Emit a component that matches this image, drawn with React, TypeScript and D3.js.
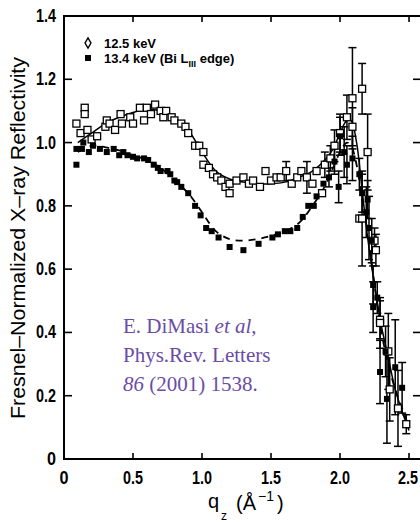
import * as d3 from "d3";
import React, { useEffect, useRef } from "react";

// 12.5 keV (open symbols)
const qOpen = [0.09, 0.12, 0.15, 0.15, 0.17, 0.2, 0.24, 0.3, 0.31, 0.33, 0.37, 0.41, 0.42, 0.48, 0.5, 0.55, 0.58, 0.6, 0.63, 0.66, 0.7, 0.72, 0.74, 0.78, 0.8, 0.85, 0.88, 0.9, 0.95, 0.98, 1.01, 1.01, 1.05, 1.08, 1.11, 1.14, 1.17, 1.2, 1.2, 1.25, 1.3, 1.34, 1.37, 1.42, 1.46, 1.5, 1.54, 1.57, 1.61, 1.65, 1.69, 1.72, 1.76, 1.8, 1.83, 1.87, 1.89, 1.93, 1.96, 2.0, 2.05, 2.09, 2.09, 2.14, 2.16, 2.16, 2.2, 2.25, 2.26, 2.29, 2.29, 2.35, 2.36, 2.42, 2.48];
const rOpen = [1.06, 1.03, 1.11, 1.09, 1.04, 1.01, 1.02, 1.05, 1.07, 1.06, 1.04, 1.09, 1.06, 1.08, 1.06, 1.11, 1.07, 1.11, 1.09, 1.12, 1.1, 1.08, 1.1, 1.08, 1.07, 1.06, 1.05, 1.03, 0.99, 0.99, 0.97, 0.93, 0.92, 0.9, 0.89, 0.88, 0.86, 0.87, 0.84, 0.88, 0.89, 0.87, 0.88, 0.86, 0.91, 0.88, 0.89, 0.89, 0.91, 0.87, 0.89, 0.91, 0.89, 0.87, 0.91, 0.84, 0.93, 0.95, 0.99, 1.03, 1.08, 1.05, 1.14, 0.76, 1.17, 0.76, 0.97, 0.69, 0.66, 0.44, 0.43, 0.34, 0.22, 0.16, 0.11];
const eOpen = [0, 0, 0, 0, 0, 0, 0, 0, 0, 0, 0, 0, 0, 0, 0, 0, 0, 0, 0, 0, 0, 0, 0, 0, 0, 0, 0, 0, 0, 0, 0, 0, 0, 0, 0, 0, 0, 0, 0, 0, 0, 0, 0, 0, 0, 0, 0, 0, 0.03, 0, 0, 0, 0.05, 0, 0, 0, 0.04, 0.04, 0.05, 0.06, 0.07, 0.06, 0.16, 0, 0.08, 0.15, 0.12, 0.04, 0.05, 0.06, 0.08, 0.12, 0.1, 0.12, 0.03];

// 13.4 keV, Bi L_III edge (filled symbols)
const qFilled = [0.09, 0.09, 0.13, 0.14, 0.18, 0.21, 0.26, 0.31, 0.36, 0.4, 0.43, 0.46, 0.5, 0.53, 0.58, 0.61, 0.65, 0.68, 0.7, 0.75, 0.77, 0.8, 0.82, 0.85, 0.9, 0.95, 0.99, 1.03, 1.07, 1.12, 1.2, 1.3, 1.41, 1.51, 1.55, 1.6, 1.64, 1.69, 1.73, 1.77, 1.81, 1.83, 1.88, 1.92, 1.96, 1.99, 2.0, 2.03, 2.05, 2.09, 2.14, 2.16, 2.19, 2.2, 2.21, 2.23, 2.24, 2.27, 2.24, 2.29, 2.33, 2.34, 2.4, 2.45];
const rFilled = [0.93, 0.98, 0.98, 1.0, 0.97, 0.99, 0.98, 0.97, 0.98, 0.96, 0.97, 0.96, 0.955, 0.95, 0.95, 0.945, 0.93, 0.92, 0.91, 0.91, 0.9, 0.88, 0.875, 0.86, 0.84, 0.8, 0.77, 0.73, 0.72, 0.7, 0.67, 0.66, 0.68, 0.7, 0.71, 0.72, 0.72, 0.73, 0.765, 0.8, 0.8, 0.83, 0.87, 0.89, 0.94, 0.86, 1.02, 0.97, 0.93, 0.95, 0.9, 0.84, 0.78, 0.82, 0.73, 0.69, 0.55, 0.51, 0.48, 0.275, 0.34, 0.19, 0.29, 0.225];
const eFilled = [0, 0, 0, 0, 0, 0, 0, 0, 0, 0, 0, 0, 0, 0, 0, 0, 0, 0, 0, 0, 0, 0, 0, 0, 0, 0, 0, 0, 0, 0, 0, 0, 0, 0, 0, 0, 0, 0, 0, 0, 0, 0, 0, 0.03, 0.04, 0.05, 0.06, 0.08, 0.06, 0.07, 0.05, 0.06, 0.08, 0.06, 0.1, 0.07, 0.06, 0.05, 0.08, 0.1, 0.08, 0.14, 0.15, 0.08];

// model curves
const qFit = [0.1, 0.2, 0.3, 0.4, 0.5, 0.6, 0.7, 0.8, 0.9, 1.0, 1.1, 1.2, 1.3, 1.4, 1.5, 1.6, 1.7, 1.8, 1.9, 1.95, 2.0, 2.05, 2.08, 2.12, 2.16, 2.2, 2.25, 2.3, 2.35, 2.4, 2.45, 2.5];
const rFitOpen = [1.0, 1.03, 1.06, 1.08, 1.095, 1.105, 1.1, 1.08, 1.04, 0.97, 0.91, 0.885, 0.875, 0.87, 0.87, 0.875, 0.89, 0.91, 0.95, 0.98, 1.03, 1.07, 1.07, 1.0, 0.85, 0.7, 0.55, 0.42, 0.32, 0.22, 0.15, 0.09];
const rFitFilled = [0.97, 0.99, 0.985, 0.975, 0.96, 0.945, 0.92, 0.88, 0.84, 0.78, 0.72, 0.695, 0.69, 0.695, 0.705, 0.72, 0.745, 0.8, 0.87, 0.92, 0.97, 1.0, 0.99, 0.93, 0.82, 0.72, 0.55, 0.4, 0.3, 0.22, 0.16, 0.1];

const xTicks = [0, 0.5, 1.0, 1.5, 2.0, 2.5];
const xTickLabels = ["0", "0.5", "1.0", "1.5", "2.0", "2.5"];
const yTicks = [0, 0.2, 0.4, 0.6, 0.8, 1.0, 1.2, 1.4];
const yTickLabels = ["0", "0.2", "0.4", "0.6", "0.8", "1.0", "1.2", "1.4"];

const citation = ["E. DiMasi ", "Phys.Rev. Letters", " (2001) 1538."];

export default function App() {
  const svgRef = useRef(null);

  useEffect(() => {
    const svg = d3.select(svgRef.current);
    svg.selectAll("*").remove();

    const margin = { left: 64, top: 16, right: 422, bottom: 459 };
    const x = d3.scaleLinear().domain([0, 2.594]).range([margin.left, margin.right]);
    const y = d3.scaleLinear().domain([0, 1.4]).range([margin.bottom, margin.top]);
    const tickFont = "'Liberation Sans', Arial, sans-serif";
    // rough width of condensed tick labels in the original
    const labelWidth = s => (s.length === 1 ? 9 : 20);

    // frame
    svg.append("rect")
      .attr("x", margin.left).attr("y", margin.top)
      .attr("width", margin.right - margin.left).attr("height", margin.bottom - margin.top)
      .attr("fill", "none").attr("stroke", "#000").attr("stroke-width", 2);

    // ticks on all four sides, pointing inward
    const tk = svg.append("g").attr("stroke", "#000").attr("stroke-width", 1.6);
    xTicks.forEach(t => {
      tk.append("line").attr("x1", x(t)).attr("x2", x(t)).attr("y1", margin.bottom).attr("y2", margin.bottom - 6);
      tk.append("line").attr("x1", x(t)).attr("x2", x(t)).attr("y1", margin.top).attr("y2", margin.top + 6);
    });
    yTicks.forEach(t => {
      tk.append("line").attr("y1", y(t)).attr("y2", y(t)).attr("x1", margin.left).attr("x2", margin.left + 8);
      tk.append("line").attr("y1", y(t)).attr("y2", y(t)).attr("x1", margin.right - 2).attr("x2", margin.right - 9);
    });

    svg.append("g").selectAll("text").data(xTicks).enter().append("text")
      .attr("x", d => Math.min(x(d), 408)).attr("y", margin.bottom + 25)
      .attr("text-anchor", "middle")
      .attr("font-family", tickFont).attr("font-size", 18).attr("font-weight", "bold")
      .attr("textLength", (d, i) => labelWidth(xTickLabels[i])).attr("lengthAdjust", "spacingAndGlyphs")
      .text((d, i) => xTickLabels[i]);

    svg.append("g").selectAll("text").data(yTicks).enter().append("text")
      .attr("x", margin.left - 8).attr("y", d => y(d) + 6)
      .attr("text-anchor", "end")
      .attr("font-family", tickFont).attr("font-size", 18).attr("font-weight", "bold")
      .attr("textLength", (d, i) => labelWidth(yTickLabels[i])).attr("lengthAdjust", "spacingAndGlyphs")
      .text((d, i) => yTickLabels[i]);

    // axis titles
    svg.append("text")
      .attr("transform", "translate(25,238) rotate(-90)")
      .attr("text-anchor", "middle")
      .attr("font-family", tickFont).attr("font-size", 21)
      .attr("textLength", 362).attr("lengthAdjust", "spacingAndGlyphs")
      .text("Fresnel\u2013Normalized  X\u2013ray  Reflectivity");

    const xfont = svg.append("g").attr("font-family", tickFont).attr("font-size", 20);
    xfont.append("text").attr("x", 208).attr("y", 508).text("q");
    xfont.append("text").attr("x", 221).attr("y", 520).attr("font-size", 12).text("z");
    xfont.append("text").attr("x", 236).attr("y", 510).text("(\u00C5");
    xfont.append("text").attr("x", 258).attr("y", 501).attr("font-size", 14).text("\u22121");
    xfont.append("text").attr("x", 277).attr("y", 510).text(")");

    svg.append("clipPath").attr("id", "plotclip").append("rect")
      .attr("x", margin.left).attr("y", margin.top)
      .attr("width", margin.right - margin.left).attr("height", margin.bottom - margin.top);
    const plot = svg.append("g").attr("clip-path", "url(#plotclip)");

    // model curves
    const line = d3.line().x(d => x(d[0])).y(d => y(d[1])).curve(d3.curveCatmullRom);
    plot.append("path")
      .datum(qFit.map((q, i) => [q, rFitOpen[i]]))
      .attr("fill", "none").attr("stroke", "#000").attr("stroke-width", 1.5)
      .attr("d", line);
    plot.append("path")
      .datum(qFit.map((q, i) => [q, rFitFilled[i]]))
      .attr("fill", "none").attr("stroke", "#000").attr("stroke-width", 1.8)
      .attr("stroke-dasharray", "7,6")
      .attr("d", line);

    // error bars
    const drawErr = (qs, rs, es) => {
      const g = plot.append("g").attr("stroke", "#000").attr("stroke-width", 1.5);
      qs.forEach((q, i) => {
        if (!es[i]) return;
        const cx = x(q);
        g.append("line").attr("x1", cx).attr("x2", cx).attr("y1", y(rs[i] - es[i])).attr("y2", y(rs[i] + es[i]));
        g.append("line").attr("x1", cx - 4).attr("x2", cx + 4).attr("y1", y(rs[i] - es[i])).attr("y2", y(rs[i] - es[i]));
        g.append("line").attr("x1", cx - 4).attr("x2", cx + 4).attr("y1", y(rs[i] + es[i])).attr("y2", y(rs[i] + es[i]));
      });
    };
    drawErr(qOpen, rOpen, eOpen);
    drawErr(qFilled, rFilled, eFilled);

    // markers
    plot.append("g").selectAll("rect").data(qOpen).enter().append("rect")
      .attr("x", d => x(d) - 3.5).attr("y", (d, i) => y(rOpen[i]) - 3.5)
      .attr("width", 7).attr("height", 7)
      .attr("fill", "#fff").attr("stroke", "#000").attr("stroke-width", 1.3);
    plot.append("g").selectAll("rect").data(qFilled).enter().append("rect")
      .attr("x", d => x(d) - 3).attr("y", (d, i) => y(rFilled[i]) - 3)
      .attr("width", 6).attr("height", 6)
      .attr("fill", "#000");

    // legend
    const lg = svg.append("g").attr("font-family", tickFont).attr("font-size", 13).attr("font-weight", "bold");
    lg.append("path")
      .attr("d", d3.symbol(d3.symbolDiamond, 30)())
      .attr("transform", "translate(88,43)")
      .attr("fill", "#fff").attr("stroke", "#000").attr("stroke-width", 1.4);
    lg.append("text").attr("x", 104).attr("y", 48).text("12.5 keV");
    lg.append("rect").attr("x", 85).attr("y", 55).attr("width", 6).attr("height", 6).attr("fill", "#000");
    const t2 = lg.append("text").attr("x", 104).attr("y", 63).text("13.4 keV (Bi L");
    t2.append("tspan").attr("dy", 4).attr("font-size", 9).text("III");
    t2.append("tspan").attr("dy", -4).text(" edge)");

    // citation
    const cg = svg.append("g")
      .attr("font-family", "'Liberation Serif', 'DejaVu Serif', serif")
      .attr("font-size", 21).attr("fill", "#6a4ca6");
    const c1 = cg.append("text").attr("x", 123).attr("y", 333).text(citation[0]);
    c1.append("tspan").attr("font-style", "italic").text("et al");
    c1.append("tspan").text(",");
    cg.append("text").attr("x", 123).attr("y", 362).text(citation[1]);
    const c3 = cg.append("text").attr("x", 123).attr("y", 391);
    c3.append("tspan").attr("font-style", "italic").text("86");
    c3.append("tspan").text(citation[2]);
  }, []);

  return (
    <svg ref={svgRef} width={420} height={522}
      style={{ position: "absolute", left: 0, top: 0, background: "#fff" }} />
  );
}
